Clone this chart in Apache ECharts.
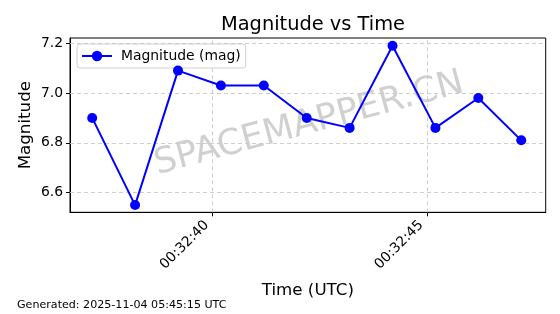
<!DOCTYPE html>
<html>
<head>
<meta charset="utf-8">
<script src="https://cdn.jsdelivr.net/npm/echarts@6/dist/echarts.min.js"></script>
<style>
html,body{margin:0;padding:0;background:#fff;}
#chart{width:560px;height:314px;}
</style>
</head>
<body>
<div id="chart"></div>
<script>
// Data (times are seconds within minute 00:32 UTC)
const timeSeconds = [37.2, 38.2, 39.2, 40.2, 41.2, 42.2, 43.2, 44.2, 45.2, 46.2, 47.2];
const magnitudes = [6.90, 6.55, 7.09, 7.03, 7.03, 6.90, 6.86, 7.19, 6.86, 6.98, 6.81];
const xTickValues = [40, 45];
const xTickLabels = ["00:32:40", "00:32:45"];
const yTickValues = [6.6, 6.8, 7.0, 7.2];
const yTickLabels = ["6.6", "6.8", "7.0", "7.2"];
const seriesName = "Magnitude (mag)";
const titleText = "Magnitude vs Time";
const xName = "Time (UTC)";
const yName = "Magnitude";
const footText = "Generated: 2025-11-04 05:45:15 UTC";
const watermarkText = "SPACEMAPPER.CN";

const FONT = "DejaVu Sans";
const points = timeSeconds.map((t, i) => [t, magnitudes[i]]);

const chart = echarts.init(document.getElementById('chart'), null, { renderer: 'canvas' });
chart.setOption({
  animation: false,
  backgroundColor: '#fff',
  textStyle: { fontFamily: FONT },
  title: {
    text: titleText, left: 308, top: 10, textAlign: 'center',
    textStyle: { fontFamily: FONT, fontSize: 19.4, fontWeight: 'normal', color: '#000' }
  },
  grid: { left: 70, right: 14.3, top: 38, bottom: 101.7, containLabel: false, show: false },
  legend: {
    left: 77, top: 44, orient: 'vertical',
    itemWidth: 30, itemHeight: 13, itemGap: 0,
    padding: [5, 5, 5, 4],
    backgroundColor: 'rgba(255,255,255,0.8)',
    borderColor: '#d0d0d0', borderWidth: 1, borderRadius: 3,
    textStyle: { fontFamily: FONT, fontSize: 13.9, color: '#000', padding: [0, 0, 0, 4] },
    data: [{ name: seriesName }]
  },
  xAxis: {
    type: 'value', min: 36.683, max: 47.77,
    name: xName, nameLocation: 'middle', nameGap: 70,
    nameTextStyle: { fontFamily: FONT, fontSize: 16.7, color: '#000' },
    axisLine: { show: true, onZero: false, lineStyle: { color: '#000', width: 1 } },
    axisTick: { show: true, length: 4, lineStyle: { color: '#000' }, customValues: xTickValues },
    axisLabel: {
      rotate: 45, fontFamily: FONT, fontSize: 13.9, color: '#000', margin: 5,
      padding: [0, 8, 0, 0],
      customValues: xTickValues,
      formatter: v => xTickLabels[xTickValues.indexOf(Math.round(v))] || ''
    },
    splitLine: { show: false }
  },
  yAxis: {
    type: 'value', min: 6.521, max: 7.221,
    name: yName, nameLocation: 'middle', nameGap: 36, nameMoveOverlap: false,
    nameTextStyle: { fontFamily: FONT, fontSize: 16.7, color: '#000' },
    axisLine: { show: true, onZero: false, lineStyle: { color: '#000', width: 1 } },
    axisTick: { show: true, length: 4, lineStyle: { color: '#000' }, customValues: yTickValues },
    axisLabel: {
      fontFamily: FONT, fontSize: 13.9, color: '#000', margin: 7,
      customValues: yTickValues,
      formatter: v => { const i = yTickValues.findIndex(t => Math.abs(t - v) < 1e-6); return i >= 0 ? yTickLabels[i] : ''; }
    },
    splitLine: { show: false }
  },
  graphic: [
    {
      type: 'rect', z: 0, silent: true,
      shape: { x: 70, y: 38, width: 475.7, height: 174.3 },
      style: { fill: 'none', stroke: '#000', lineWidth: 1 }
    },
    {
      type: 'text', z: 1, silent: true,
      x: 309, y: 124, rotation: 15 * Math.PI / 180,
      style: {
        text: watermarkText, fontFamily: FONT, fontSize: 35.5,
        fill: 'rgba(150,150,150,0.45)', align: 'center', verticalAlign: 'middle'
      }
    },
    {
      type: 'text', silent: true, left: 17, top: 300,
      style: { text: footText, fontFamily: FONT, fontSize: 11.1, fill: '#000' }
    }
  ],
  series: [
    {
      name: seriesName, type: 'line', data: points,
      symbol: 'circle', symbolSize: 10, showSymbol: true,
      lineStyle: { color: '#0000ff', width: 2 },
      itemStyle: { color: '#0000ff' },
      z: 5,
      markLine: {
        silent: true, symbol: 'none', label: { show: false }, z: 1,
        lineStyle: { color: '#c8c8c8', type: [4, 3], width: 0.9 },
        data: xTickValues.map(v => ({ xAxis: v })).concat(yTickValues.map(v => ({ yAxis: v })))
      }
    }
  ]
});
</script>
</body>
</html>
